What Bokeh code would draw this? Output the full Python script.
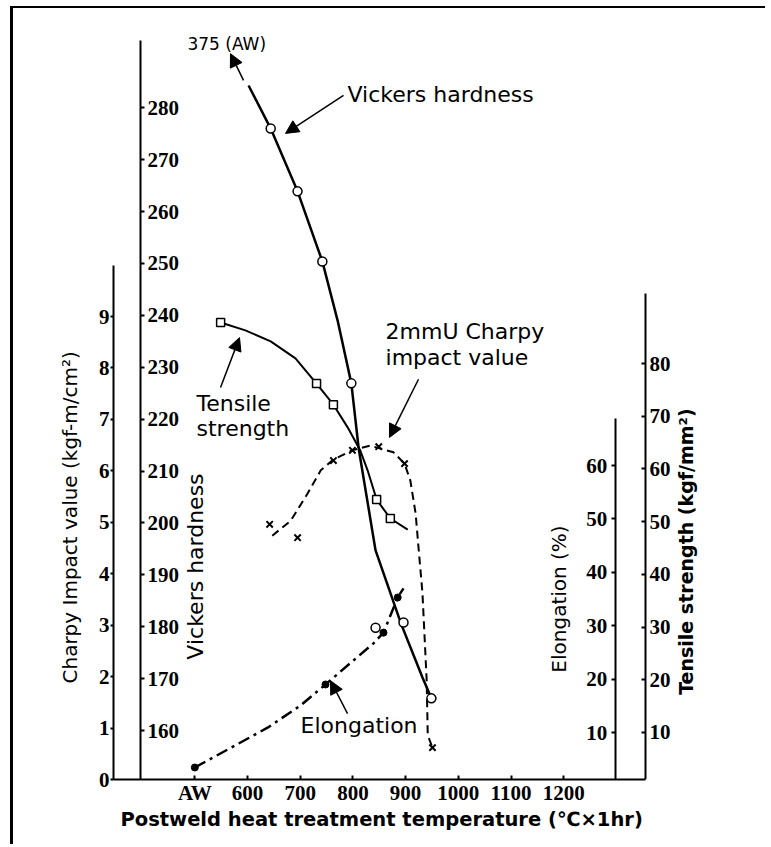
from math import pi
from bokeh.plotting import figure
from bokeh.models import Range1d, LinearAxis, FixedTicker, Label, Arrow, NormalHead, Title
from bokeh.embed import file_html
from bokeh.resources import INLINE

# ---------------- data ----------------
x_ticks = [500, 600, 700, 800, 900, 1000, 1100, 1200]
x_tick_labels = ["AW", "600", "700", "800", "900", "1000", "1100", "1200"]

charpy_ticks = [0, 1, 2, 3, 4, 5, 6, 7, 8, 9]
vickers_ticks = [160, 170, 180, 190, 200, 210, 220, 230, 240, 250, 260, 270, 280]
elong_ticks = [10, 20, 30, 40, 50, 60]
tensile_ticks = [10, 20, 30, 40, 50, 60, 70, 80]

# Vickers hardness (open circles, solid line)
vickers_temp = [644, 695, 742, 797, 843, 896, 949]
vickers_hv = [276.0, 263.9, 250.4, 226.9, 179.8, 180.8, 166.2]
vickers_curve_temp = [602, 644, 695, 742, 771, 797, 811, 843, 892, 932, 949]
vickers_curve_hv = [284.3, 276.0, 263.9, 250.4, 239.0, 226.9, 214.3, 194.7, 180.4, 170.2, 166.2]

# Tensile strength (open squares, solid line)
tensile_temp = [549, 731, 763, 845, 871]
tensile_ts = [87.8, 76.2, 72.2, 54.2, 50.6]
tensile_curve_temp = [549, 596, 644, 691, 731, 763, 790, 814, 828, 845, 871, 904]
tensile_curve_ts = [87.8, 86.3, 84.2, 81.0, 76.2, 72.2, 67.9, 63.5, 59.7, 54.2, 50.6, 48.5]

# 2mmU Charpy impact value (crosses, dashed line)
charpy_temp = [642, 695, 763, 799, 849, 898, 951]
charpy_cv = [4.96, 4.70, 6.20, 6.40, 6.47, 6.14, 0.62]
charpy_curve_temp = [647, 682, 714, 739, 763, 799, 833, 877, 898, 909, 919, 925, 932, 940, 942, 951]
charpy_curve_cv = [4.74, 5.03, 5.56, 6.01, 6.22, 6.40, 6.49, 6.36, 6.14, 5.81, 5.17, 4.45, 3.62, 1.92, 0.86, 0.62]

# Elongation (filled dots, dash-dot line)
elong_temp = [500, 748, 858, 885]
elong_pct = [3.45, 19.0, 28.7, 35.3]
elong_curve_temp = [500, 638, 701, 748, 801, 839, 858, 885, 896]
elong_curve_pct = [3.45, 10.9, 15.1, 19.0, 23.5, 26.7, 28.7, 35.3, 37.0]

# ---------------- figure ----------------
TICK_FONT = "Liberation Serif"
TEXT_FONT = "DejaVu Sans"

X0, X1 = 345.7, 1516.5      # data range of the frame
AX_R = 1355.2               # where the x axis ends / tensile axis stands

p = figure(width=755, height=838,
           x_range=Range1d(X0, X1), y_range=Range1d(0, 14.56),
           output_backend="svg", toolbar_location=None,
           min_border_left=100, min_border_right=38,
           min_border_top=22, min_border_bottom=67,
           styles={"border-top": "2px solid black", "border-left": "3px solid black",
                   "margin-left": "10px", "margin-top": "6px"})
p.outline_line_color = None
p.xgrid.visible = False
p.ygrid.visible = False

p.extra_y_ranges = {
    "vickers": Range1d(150.56, 294.9),
    "tensile": Range1d(1.08, 143.2),
    "elong": Range1d(1.2, 141.5),
}


def style_axis(ax):
    ax.axis_line_width = 2
    ax.axis_line_color = "black"
    ax.major_tick_line_width = 2
    ax.major_tick_line_color = "black"
    ax.minor_tick_line_color = None
    ax.major_label_text_font = TICK_FONT
    ax.major_label_text_font_style = "bold"
    ax.major_label_text_font_size = "21px"
    ax.major_label_text_color = "black"
    ax.axis_label_text_font = TEXT_FONT
    ax.axis_label_text_font_style = "normal"
    ax.axis_label_text_font_size = "20px"
    ax.axis_label_text_color = "black"


# x axis
xa = p.xaxis[0]
style_axis(xa)
xa.ticker = FixedTicker(ticks=x_ticks)
xa.major_label_overrides = {t: l for t, l in zip(x_ticks, x_tick_labels)}
xa.bounds = (X0, AX_R)
xa.major_tick_in = 4
xa.major_tick_out = 0
xa.major_label_standoff = 1
p.add_layout(Title(text="Postweld heat treatment temperature (\u2103\u00d71hr)", align="left",
                   offset=7, vertical_align="top", standoff=0,
                   text_font=TEXT_FONT, text_font_size="19.5px", text_font_style="bold",
                   text_color="black"), "below")

# Charpy axis (left panel)
ca = p.yaxis[0]
style_axis(ca)
ca.ticker = FixedTicker(ticks=charpy_ticks)
ca.bounds = (0, 10)
ca.major_tick_in = 0
ca.major_tick_out = 3
ca.major_label_standoff = 1

# Charpy axis title (placed from the bottom of the frame, reading upwards)
p.add_layout(Title(text="Charpy Impact value (kgf-m/cm\u00b2)", align="left", offset=96,
                   text_font=TEXT_FONT, text_font_size="20px", text_font_style="normal",
                   text_color="black", standoff=28), "left")

# Elongation axis (inside, at right)
ea = LinearAxis(y_range_name="elong", fixed_location=1298)
style_axis(ea)
ea.ticker = FixedTicker(ticks=elong_ticks)
ea.bounds = (1.2, 68.8)
ea.major_tick_in = 0
ea.major_tick_out = 4
ea.major_label_standoff = 4
ea.axis_label = "Elongation (%)"
ea.axis_label_standoff = 13
p.add_layout(ea, "left")

# Tensile axis (at the end of the x axis)
ta = LinearAxis(y_range_name="tensile", fixed_location=AX_R)
style_axis(ta)
ta.ticker = FixedTicker(ticks=tensile_ticks)
ta.bounds = (1.08, 93.3)
ta.major_tick_in = 4
ta.major_tick_out = 0
ta.major_label_standoff = 4
p.add_layout(ta, "right")

# Vickers axis (inside, at left)
va = LinearAxis(y_range_name="vickers", fixed_location=397)
style_axis(va)
va.ticker = FixedTicker(ticks=vickers_ticks)
va.bounds = (150.56, 293)
va.major_tick_in = 0
va.major_tick_out = 4
va.major_label_standoff = 3
p.add_layout(va, "right")

# ---------------- series ----------------
p.line(vickers_curve_temp, vickers_curve_hv, y_range_name="vickers", line_color="black", line_width=2.5)
p.scatter(vickers_temp, vickers_hv, y_range_name="vickers", marker="circle", size=9,
          fill_color="white", line_color="black", line_width=1.5)

p.line(tensile_curve_temp, tensile_curve_ts, y_range_name="tensile", line_color="black", line_width=2)
p.scatter(tensile_temp, tensile_ts, y_range_name="tensile", marker="square", size=8,
          fill_color="white", line_color="black", line_width=1.5)

p.line(charpy_curve_temp, charpy_curve_cv, line_color="black", line_width=2, line_dash="8 5")
p.scatter(charpy_temp, charpy_cv, marker="x", size=9, line_color="black", line_width=2)

p.line(elong_curve_temp, elong_curve_pct, y_range_name="elong", line_color="black", line_width=2.5,
       line_dash="12 5 3 5")
p.scatter(elong_temp, elong_pct, y_range_name="elong", marker="circle", size=7,
          fill_color="black", line_color="black")

# ---------------- annotations ----------------
def label(x, y, text, size="22px", **kw):
    p.add_layout(Label(x=x, y=y, text=text, text_font=TEXT_FONT, text_font_size=size,
                       text_color="black", text_baseline="middle", **kw))


label(486, 14.29, "375 (AW)", size="17px")
label(789.8, 13.32, "Vickers hardness")
label(861.9, 8.71, "2mmU Charpy")
label(861.9, 8.20, "impact value")
label(503.2, 7.31, "Tensile")
label(503.2, 6.82, "strength")
label(700.6, 1.05, "Elongation")
label(501.3, 4.14, "Vickers hardness", text_align="center", angle=pi / 2)
label(1433.0, 4.43, "Tensile strength (kgf/mm\u00b2)", size="19px", text_align="center",
      angle=pi / 2, text_font_style="bold")


def arrow(x0, y0, x1, y1):
    p.add_layout(Arrow(end=NormalHead(size=13, fill_color="black", line_color="black"),
                       x_start=x0, y_start=y0, x_end=x1, y_end=y1,
                       line_color="black", line_width=1.5))


arrow(592.4, 13.59, 567.7, 14.11)
arrow(782.2, 13.30, 672.1, 12.56)
arrow(548.8, 7.62, 584.8, 8.59)
arrow(924.5, 7.78, 869.4, 6.65)
arrow(789.8, 1.28, 757.5, 1.92)

open("out.html", "w").write(file_html(p, INLINE))
